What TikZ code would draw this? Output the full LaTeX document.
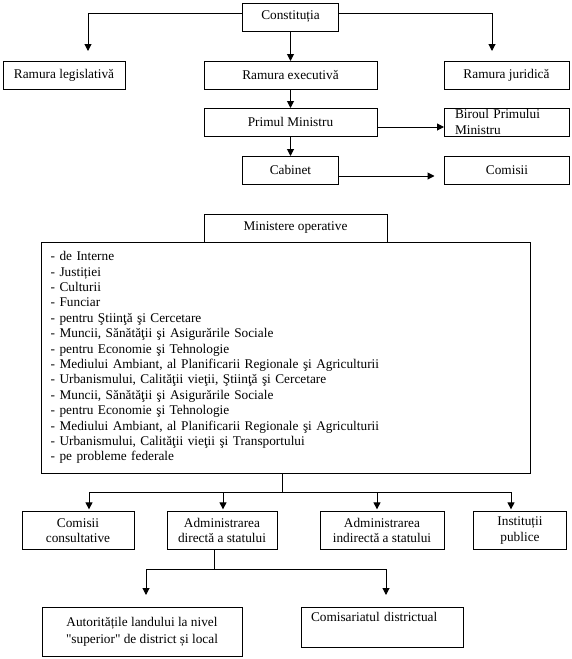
\documentclass[tikz,border=0pt]{standalone}
\usepackage{fontspec}
\setmainfont{Liberation Serif}
\usetikzlibrary{arrows.meta, positioning}

\begin{document}
\begin{tikzpicture}[x=1pt, y=-1pt, line width=1pt, >={Triangle[width=7pt,length=7pt]},
    every node/.style={font=\fontsize{13.3}{15.4}\selectfont, outer sep=0pt},
    box/.style={draw, rectangle, inner sep=0pt, minimum height=28pt, align=center}]
    \useasboundingbox (0,0) rectangle (572,659);

    \node [box, minimum width=173pt] (exec) at (290.5,75) {Ramura executivă};
    \node [box, minimum width=96pt, above=30pt of exec] (const) {Constituția};
    \node [box, minimum width=122pt, left=79pt of exec] (leg) {Ramura legislativă};
    \node [box, minimum width=125pt, right=67pt of exec] (jur) {Ramura juridică};
    \node [box, minimum width=173pt, below=19pt of exec] (prim) {Primul Ministru};
    \node [box, align=left, text width=103pt, inner xsep=11pt, right=67pt of prim] (birou) {Biroul Primului\\Ministru};
    \node [box, minimum width=96pt, below=20pt of prim] (cab) {Cabinet};
    \node [box, minimum width=125pt, right=106pt of cab] (comis) {Comisii};

    \node [box, align=left, text width=471pt, inner xsep=9pt, minimum height=231pt] (min) at (286.2,357.5) {%
        - de Interne\\
        - Justiției\\
        - Culturii\\
        - Funciar\\
        - pentru Ştiinţă şi Cercetare\\
        - Muncii, Sănătăţii şi Asigurările Sociale\\
        - pentru Economie şi Tehnologie\\
        - Mediului Ambiant, al Planificarii Regionale şi Agriculturii\\
        - Urbanismului, Calităţii vieţii, Ştiinţă şi Cercetare\\
        - Muncii, Sănătăţii şi Asigurările Sociale\\
        - pentru Economie şi Tehnologie\\
        - Mediului Ambiant, al Planificarii Regionale şi Agriculturii\\
        - Urbanismului, Calităţii vieţii şi Transportului\\
        - pe probleme federale};
    \node [box, minimum width=183pt] (mintitle) at (295.5,228) {Ministere operative};

    \node [box, minimum width=112pt, minimum height=37.3pt] (consult) at (78,530.5) {Comisii\\consultative};
    \node [box, minimum width=110pt, minimum height=37.3pt] (direct) at (222,530.5) {Administrarea\\directă a statului};
    \node [box, minimum width=124pt, minimum height=37.3pt] (indirect) at (382,530.5) {Administrarea\\indirectă a statului};
    \node [box, minimum width=93pt, minimum height=37.3pt] (instit) at (520,530.5) {Instituții\\publice};

    \node [box, minimum width=200pt, minimum height=49pt] (autor) at (142,631.5) {Autoritățile landului la nivel\\[2pt]\textquotedbl superior\textquotedbl{} de district și local};
    \node [box, align=left, text width=142pt, inner xsep=10pt, text height=14pt, text depth=26pt] (comsar) at (382,627) {Comisariatul districtual};

    \draw[->, shorten >=10pt] ([yshift=4pt]const.west) -| ([xshift=24pt]leg.north);
    \draw[->, shorten >=10pt] ([yshift=4pt]const.east) -| ([xshift=-14.5pt]jur.north);
    \draw[->] (const) -- (exec);
    \draw[->] (exec) -- (prim);
    \draw[->] ([yshift=-5pt]prim.east) -- ([yshift=-5pt]birou.west);
    \draw[->] (prim) -- (cab);
    \draw[->, shorten >=10pt] ([yshift=-6pt]cab.east) -- ([yshift=-6pt]comis.west);
    \foreach \t/\s in {consult/11, direct/1, indirect/-5, instit/-9}
        \draw[->, shorten >=2.5pt] ([xshift=-4pt]min.south) -- ++(0,19) -| ([xshift=\s pt]\t.north);
    \foreach \t in {autor, comsar}
        \draw[->, shorten >=12pt] ([xshift=-8pt]direct.south) -- ++(0,20) -| ([xshift=4pt]\t.north);
\end{tikzpicture}
\end{document}
